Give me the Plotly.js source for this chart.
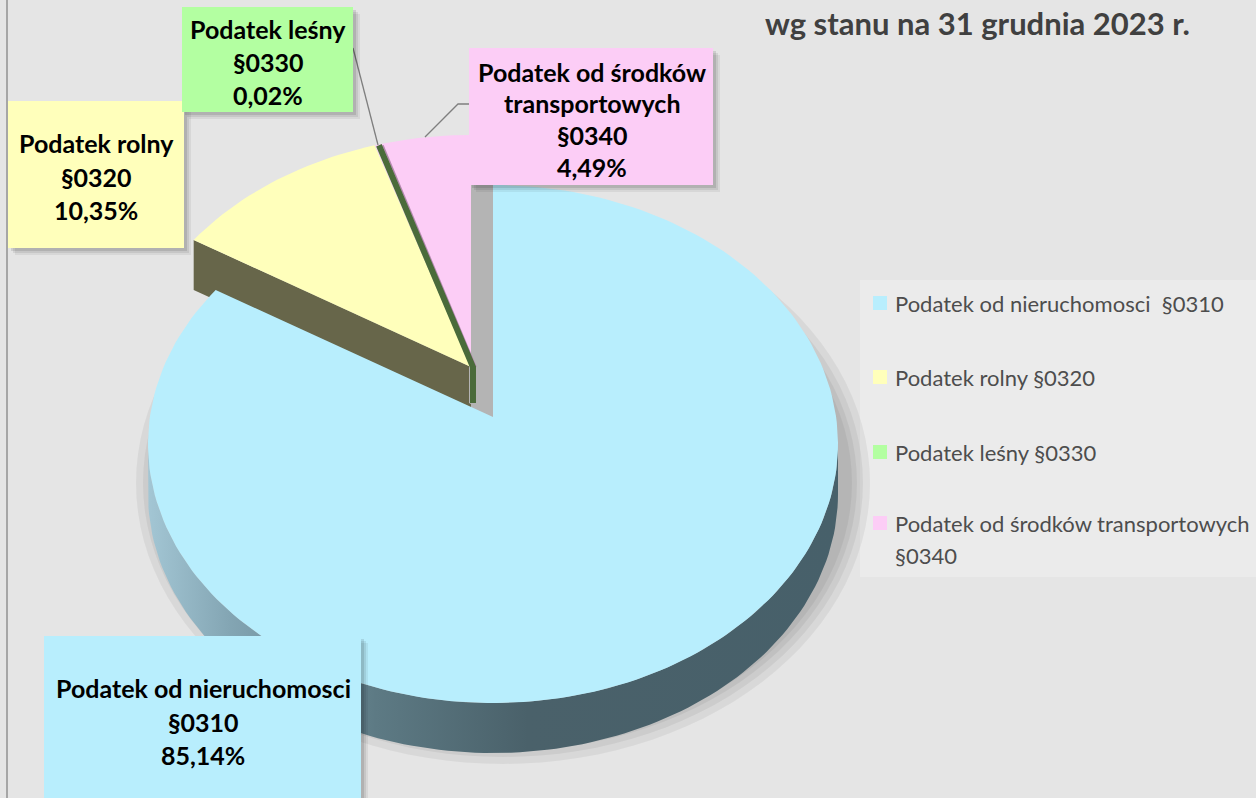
<!DOCTYPE html>
<html>
<head>
<meta charset="utf-8">
<script src="https://cdn.plot.ly/plotly-3.0.1.min.js"></script>
<style>html,body{margin:0;padding:0;background:#e5e5e5;}#chart{width:1256px;height:798px;}</style>
</head>
<body>
<div id="chart"></div>
<script>
// ---- data ----
const categories = ['Podatek od nieruchomosci', 'Podatek rolny', 'Podatek leśny', 'Podatek od środków transportowych'];
const codes = ['§0310', '§0320', '§0330', '§0340'];
const shares = [85.14, 10.35, 0.02, 4.49];
const legendLabels = ['Podatek od nieruchomosci  §0310', 'Podatek rolny §0320', 'Podatek leśny §0330', 'Podatek od środków transportowych<br>§0340'];
const labelNameLines = [['Podatek od nieruchomosci'], ['Podatek rolny'], ['Podatek leśny'], ['Podatek od środków', 'transportowych']];
const titleText = 'wg stanu na 31 grudnia 2023 r.';

// ---- style / geometry ----
const topColors = ['#b8eefd', '#ffffbb', '#b3ffa1', '#fccdf6'];
const W = 1256, H = 798;
const cx = 493, cy = 444, rx = 345, ry = 259, ax = 493, ay = 417, depth = 50;
const explode = [[0, 0], [-22, -50], [-22, -50], [-22, -50]];

const total = shares.reduce((a, b) => a + b, 0);
const angles = [];
let acc = 0;
shares.forEach(v => { const a0 = acc / total * 360; acc += v; angles.push([a0, acc / total * 360]); });

function rim(phi, off, dy) {
  const p = phi * Math.PI / 180;
  return [cx + rx * Math.sin(p) + off[0], cy - ry * Math.cos(p) + off[1] + (dy || 0)];
}
function arc(a0, a1, off, dy) {
  const n = Math.max(2, Math.ceil(Math.abs(a1 - a0) / 1.5));
  const pts = [];
  for (let i = 0; i <= n; i++) pts.push(rim(a0 + (a1 - a0) * i / n, off, dy));
  return pts;
}
function poly(pts, color, extra) {
  const t = {x: pts.map(p => p[0]).concat([pts[0][0]]), y: pts.map(p => p[1]).concat([pts[0][1]]),
    mode: 'lines', fill: 'toself', fillcolor: color, line: {width: 0, color: color},
    hoverinfo: 'skip', showlegend: false, type: 'scatter'};
  return Object.assign(t, extra || {});
}
function add(p, q) { return [p[0] + q[0], p[1] + q[1]]; }

const traces = [];
// pie shadow (soft, toward lower right)
[22, 15, 9, 4].forEach(k => {
  const pts = [];
  for (let i = 0; i <= 120; i++) {
    const p = i / 120 * 2 * Math.PI;
    pts.push([cx + 10 + (rx + k) * Math.sin(p), cy + depth / 2 + 14 - (ry + k) * Math.cos(p)]);
  }
  traces.push(poly(pts, 'rgba(0,0,0,0.055)'));
});

const A = [ax, ay];
// yellow radial face (olive)
{
  const E = explode[1];
  const r = rim(angles[1][0], E);
  const a = add(A, E);
  traces.push(poly([r, a, add(a, [0, depth]), add(r, [0, depth])], '#67664a'));
}
// blue radial face at 0 deg (gray)
{
  const r = rim(0, [0, 0]);
  traces.push(poly([r, A, add(A, [-24, -14]), add(r, [-24, -14])], '#b4b4b4'));
}
// yellow top
{
  const E = explode[1];
  traces.push(poly([add(A, E)].concat(arc(angles[1][0], angles[1][1], E)), topColors[1]));
}
// pink top
{
  const E = explode[3];
  const a = add(A, E);
  traces.push(poly([a].concat(arc(angles[3][0], angles[3][1], E)), topColors[3]));
}
// green slice (very thin) with its dark side face
{
  const E = explode[2];
  const r = rim(angles[2][1], E);
  const a = add(A, E);
  traces.push({x: [r[0] + 8, a[0] + 5], y: [r[1], a[1]], mode: 'lines',
    line: {color: '#b58ab0', width: 1.5}, hoverinfo: 'skip', showlegend: false, type: 'scatter'});
  traces.push({x: [r[0] + 4, a[0] + 2, a[0] + 2], y: [r[1], a[1], a[1] + 36], mode: 'lines',
    line: {color: '#4a6b3a', width: 6}, hoverinfo: 'skip', showlegend: false, type: 'scatter'});
  traces.push(poly([a].concat(arc(angles[2][0], angles[2][1], E)), topColors[2]));
}
// blue outer wall (front half)
{
  const a0 = Math.max(angles[0][0], 90), a1 = Math.min(angles[0][1], 270);
  const pts = arc(a0, a1, [0, 0]).concat(arc(a1, a0, [0, 0], depth));
  traces.push(poly(pts, '#4b626b', {fillgradient: {type: 'horizontal',
    colorscale: [[0, '#a3c6d4'], [0.12, '#83a5b3'], [0.33, '#5d7a84'], [0.55, '#4a616a'], [1, '#47606a']]}}));
}
// blue top
traces.push(poly([A].concat(arc(angles[0][0], angles[0][1], [0, 0])), topColors[0]));

// ---- labels ----
const shapes = [];
const annotations = [];
shapes.push({type: 'line', xref: 'x', yref: 'y', x0: 7, x1: 7, y0: 0, y1: H, line: {color: '#a6a6a6', width: 2}});
// legend box
shapes.push({type: 'rect', xref: 'x', yref: 'y', x0: 860, x1: W + 2, y0: 280, y1: 577, fillcolor: '#ebebeb', line: {width: 0}, layer: 'below'});

const boxes = [
  {x0: 44, x1: 361, y0: 636, y1: 810, cx: 203, ys: [688, 722, 755]},
  {x0: 8, x1: 184, y0: 101, y1: 248, cx: 96, ys: [143, 177, 210]},
  {x0: 182, x1: 353, y0: 7, y1: 112, cx: 268, ys: [29, 62, 95]},
  {x0: 469, x1: 713, y0: 48, y1: 185, cx: 592, ys: [72, 103, 135, 167]}
];
// leader lines
shapes.push({type: 'path', xref: 'x', yref: 'y', path: 'M353,48 L378,145', line: {color: '#7f7f7f', width: 1.3}});
shapes.push({type: 'path', xref: 'x', yref: 'y', path: 'M469,104 L458,104 L425,137', line: {color: '#7f7f7f', width: 1.3}});

boxes.forEach((b, i) => {
  [[7, 'rgba(0,0,0,0.06)'], [5, 'rgba(0,0,0,0.08)'], [3, 'rgba(0,0,0,0.1)']].forEach(s => {
    shapes.push({type: 'rect', xref: 'x', yref: 'y', x0: b.x0 + s[0], x1: b.x1 + s[0], y0: b.y0 + s[0], y1: b.y1 + s[0], fillcolor: s[1], line: {width: 0}});
  });
  shapes.push({type: 'rect', xref: 'x', yref: 'y', x0: b.x0, x1: b.x1, y0: b.y0, y1: b.y1, fillcolor: topColors[i], line: {width: 0}});
  const lines = labelNameLines[i].concat([codes[i], shares[i].toFixed(2).replace('.', ',') + '%']);
  lines.forEach((t, j) => {
    annotations.push({text: '<b>' + t + '</b>', x: b.cx, y: b.ys[j], xref: 'x', yref: 'y', xanchor: 'center', yanchor: 'middle',
      showarrow: false, font: {family: 'Lato, "Open Sans", sans-serif', size: 25, color: '#000000'}});
  });
});

// legend
const legYs = [303, 377, 452, 523];
legendLabels.forEach((t, i) => {
  shapes.push({type: 'rect', xref: 'x', yref: 'y', x0: 873, x1: 887, y0: legYs[i] - 7, y1: legYs[i] + 7, fillcolor: topColors[i], line: {width: 0}});
  t.split('<br>').forEach((ln, j) => {
    annotations.push({text: ln, x: 893, y: legYs[i] + j * 32, xref: 'x', yref: 'y', xanchor: 'left', yanchor: 'middle',
      showarrow: false, font: {family: 'Lato, "Open Sans", sans-serif', size: 22, color: '#4d4d4d'}});
  });
});

// title
annotations.push({text: '<b>' + titleText + '</b>', x: 763, y: 2, xref: 'x', yref: 'y', xanchor: 'left', yanchor: 'top',
  showarrow: false, font: {family: 'Lato, "Open Sans", sans-serif', size: 31, color: '#404040'}});

const layout = {
  width: W, height: H,
  margin: {l: 0, r: 0, t: 0, b: 0},
  paper_bgcolor: '#e5e5e5', plot_bgcolor: '#e5e5e5',
  xaxis: {range: [0, W], visible: false, fixedrange: true},
  yaxis: {range: [H, 0], visible: false, fixedrange: true},
  showlegend: false,
  shapes: shapes,
  annotations: annotations
};
Plotly.newPlot('chart', traces, layout, {displayModeBar: false, staticPlot: true});
</script>
</body>
</html>
